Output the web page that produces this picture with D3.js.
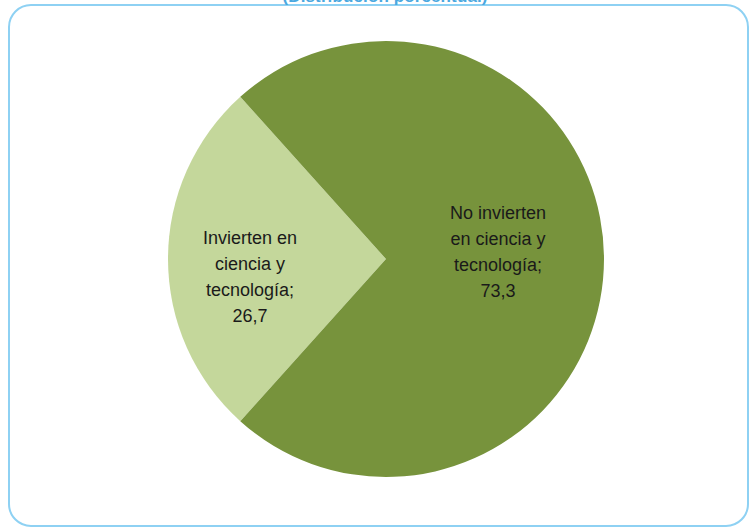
<!DOCTYPE html>
<html><head><meta charset="utf-8">
<script src="https://cdn.jsdelivr.net/npm/d3@7"></script>
<style>html,body{margin:0;padding:0;background:#fff;}</style>
</head><body>
<svg id="chart" width="753" height="528"></svg>
<script>
const categories = ["Invierten en ciencia y tecnología", "No invierten en ciencia y tecnología"];
const values = [26.7, 73.3];
const valueLabels = ["26,7", "73,3"];
const labelLines = [["Invierten en", "ciencia y", "tecnología;"], ["No invierten", "en ciencia y", "tecnología;"]];
const colors = ["#c4d79b", "#77933c"];
const title = "(Distribución porcentual)";

const svg = d3.select("#chart");
svg.append("rect").attr("x", 9).attr("y", 5).attr("width", 739).attr("height", 521)
  .attr("rx", 22).attr("ry", 22).attr("fill", "#fff").attr("stroke", "#8ed1f3").attr("stroke-width", 2);
svg.append("text").attr("x", 385).attr("y", 2).attr("text-anchor", "middle")
  .attr("font-family", "Liberation Sans, Arial, sans-serif").attr("font-size", 17).attr("font-weight", "bold")
  .attr("fill", "#4aa8e0").attr("textLength", 205).text(title);

const cx = 386, cy = 259, r = 218;
const startOffset = -Math.PI/2 - (values[0]/100)*Math.PI; // centre the first slice at 9 o'clock
const pie = d3.pie().sort(null).value(d => d)
  .startAngle(startOffset).endAngle(startOffset + 2*Math.PI);
const arcs = pie(values);
const arc = d3.arc().innerRadius(0).outerRadius(r);
const g = svg.append("g").attr("transform", `translate(${cx},${cy})`);
g.selectAll("path").data(arcs).join("path").attr("d", arc).attr("fill", (d, i) => colors[i]);

const labelPos = [[-136, -21], [112, -46]];
const lh = 26;
arcs.forEach((a, i) => {
  const lines = labelLines[i].concat([valueLabels[i]]);
  const t = g.append("text").attr("text-anchor", "middle")
    .attr("font-family", "Liberation Sans, Arial, sans-serif").attr("font-size", 18).attr("fill", "#1a1a1a");
  lines.forEach((l, j) => {
    t.append("tspan").attr("x", labelPos[i][0]).attr("y", labelPos[i][1] + j*lh).attr("dy", "0.35em").text(l);
  });
});
</script>
</body></html>
